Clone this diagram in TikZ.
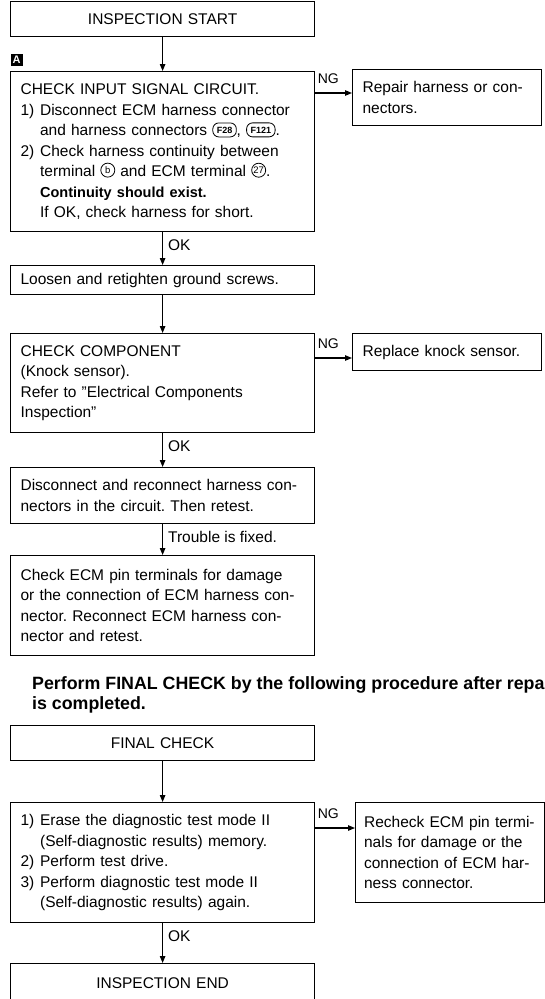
\documentclass[tikz,border=0pt]{standalone}
\usepackage{fontspec}
\setmainfont{Liberation Sans}
\usetikzlibrary{arrows.meta, positioning, calc}
\frenchspacing

\newcommand{\bodyfont}{\fontsize{15.5}{20.5}\selectfont}
\newcommand{\boldnote}[1]{{\fontsize{14.5}{20.5}\selectfont\bfseries #1}}
\newlength{\numw}
\setlength{\numw}{19.5pt}
\newcommand{\itemno}[1]{\makebox[\numw][l]{#1}}
\newcommand{\subline}{\hspace*{\numw}}
% terminal number in a circle
\newcommand{\termno}[1]{\tikz[baseline={([yshift=-3pt]t.base)}]\node[circle, draw, line width=0.8pt, inner sep=0pt, minimum size=14pt, text width={}, align=center, anchor=center, font=\fontsize{9.5}{9.5}\selectfont] (t) {#1};}
% harness connector in a rounded frame
\newcommand{\connno}[1]{\tikz[baseline={([yshift=-2.5pt]c.base)}]\node[draw, rounded corners=6pt, line width=0.8pt, inner xsep=4pt, inner ysep=2pt, minimum width=0pt, minimum height=14pt, text width={}, align=center, anchor=center, font=\fontsize{9}{9}\selectfont\bfseries] (c) {#1};}

\begin{document}
\begin{tikzpicture}[x=1pt, y=-1pt]
  % Define style
  \tikzset{
    stepbox/.style={rectangle, draw=black, line width=1.2pt, minimum width=304pt, text width=284pt, inner xsep=10pt, inner ysep=0pt, align=left, anchor=north west, font=\bodyfont},
    headbox/.style={stepbox, align=center},
    sidebox/.style={stepbox, minimum width=189pt, text width=169pt, inner xsep=10pt},
    tagA/.style={rectangle, fill=black, text=white, minimum size=12pt, inner sep=0pt, anchor=south west, font=\fontsize{11}{11}\selectfont\bfseries},
    flowtag/.style={font=\bodyfont, inner sep=0pt},
    ngtag/.style={flowtag, font=\fontsize{14}{14}\selectfont, pos=0, anchor=base west, xshift=2pt, yshift=10pt},
    oktag/.style={flowtag, pos=0, anchor=north west, xshift=5pt, yshift=-7pt},
    arrow/.style={line width=1.1pt, -{Triangle[length=7pt, width=5.5pt]}}
  }

  \useasboundingbox (0,0) rectangle (545,999);
  \clip (0,0) rectangle (545,999);

  % Define blocks
  \node (start) [headbox, minimum height=35pt] at (10,1) {INSPECTION START};
  \node (input) [stepbox, minimum height=160pt] at (10,71) {CHECK INPUT SIGNAL CIRCUIT.\\
    \itemno{1)}Disconnect ECM harness connector\\
    \subline and harness connectors \connno{F28}, \connno{F121}.\\
    \itemno{2)}Check harness continuity between\\
    \subline terminal \termno{b} and ECM terminal \termno{27}.\\
    \subline\boldnote{Continuity should exist.}\\
    \subline If OK, check harness for short.};
  \node (tag) [tagA] at ([xshift=0.5pt, yshift=5pt]input.north west) {A};
  \node (repair) [sidebox, minimum height=56pt] at (352,69) {Repair harness or con-\\nectors.};
  \node (ground) [stepbox, minimum height=29pt] at (10,265) {Loosen and retighten ground screws.};
  \node (component) [stepbox, minimum height=99pt] at (10,333) {CHECK COMPONENT\\
    (Knock sensor).\\
    Refer to "Electrical Components\\
    Inspection"};
  \node (sensor) [sidebox, minimum height=37pt] at (352,333) {Replace knock sensor.};
  \node (reconnect) [stepbox, minimum height=56pt] at (10,467) {Disconnect and reconnect harness con-\\
    nectors in the circuit. Then retest.};
  \node (pins) [stepbox, minimum height=100pt] at (10,555) {Check ECM pin terminals for damage\\
    or the connection of ECM harness con-\\
    nector. Reconnect ECM harness con-\\
    nector and retest.};
  \node (note) [anchor=base west, inner sep=0pt, align=left, font=\fontsize{17.8}{20}\selectfont\bfseries] at (32,709.5) {Perform FINAL CHECK by the following procedure after repair\\
    is completed.};
  \node (final) [headbox, minimum height=35pt] at (10,725) {FINAL CHECK};
  \node (erase) [stepbox, minimum height=120pt] at (10,802) {\itemno{1)}Erase the diagnostic test mode II\\
    \subline(Self-diagnostic results) memory.\\
    \itemno{2)}Perform test drive.\\
    \itemno{3)}Perform diagnostic test mode II\\
    \subline(Self-diagnostic results) again.};
  \node (recheck) [sidebox, minimum height=100pt, text width=172pt, inner xsep=8pt] at (355,802) {Recheck ECM pin termi-\\
    nals for damage or the\\
    connection of ECM har-\\
    ness connector.};
  \node (finish) [headbox, minimum height=40pt] at (10,963) {INSPECTION END};

  % Define arrows
  \draw [arrow] (start) -- (input);
  \draw [arrow] ([yshift=-22pt]input.north east) -- node[ngtag] {NG} ([yshift=-22pt]input.north east -| repair.west);
  \draw [arrow] (input) -- node[oktag] {OK} (ground);
  \draw [arrow] (ground) -- (component);
  \draw [arrow] ([yshift=-25pt]component.north east) -- node[ngtag] {NG} ([yshift=-25pt]component.north east -| sensor.west);
  \draw [arrow] (component) -- node[oktag] {OK} (reconnect);
  \draw [arrow] (reconnect) -- node[oktag] {Trouble is fixed.} (pins);
  \draw [arrow] (final) -- (erase);
  \draw [arrow] ([yshift=-26pt]erase.north east) -- node[ngtag] {NG} ([yshift=-26pt]erase.north east -| recheck.west);
  \draw [arrow] (erase) -- node[oktag] {OK} (finish);
\end{tikzpicture}
\end{document}
